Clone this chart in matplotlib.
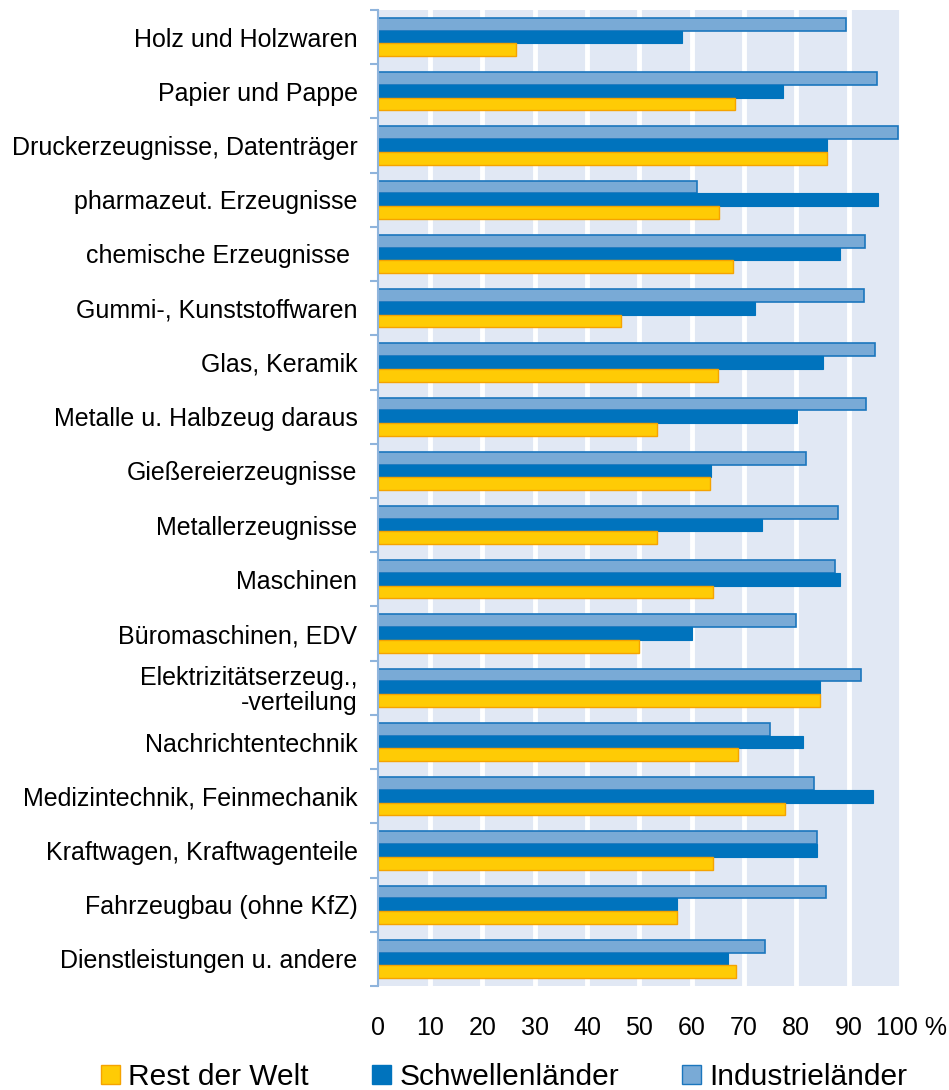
import numpy as np
import matplotlib
matplotlib.use("Agg")
import matplotlib.pyplot as plt
from matplotlib.patches import Patch
from matplotlib.transforms import ScaledTranslation

plt.rcParams["font.family"] = ["Liberation Sans", "DejaVu Sans"]

categories = [
    "Holz und Holzwaren",
    "Papier und Pappe",
    "Druckerzeugnisse, Datenträger",
    "pharmazeut. Erzeugnisse",
    "chemische Erzeugnisse ",
    "Gummi-, Kunststoffwaren",
    "Glas, Keramik",
    "Metalle u. Halbzeug daraus",
    "Gießereierzeugnisse",
    "Metallerzeugnisse",
    "Maschinen",
    "Büromaschinen, EDV",
    "Elektrizitätserzeug.,\n-verteilung",
    "Nachrichtentechnik",
    "Medizintechnik, Feinmechanik",
    "Kraftwagen, Kraftwagenteile",
    "Fahrzeugbau (ohne KfZ)",
    "Dienstleistungen u. andere",
]
industrie = [89.5, 95.5, 99.5, 61, 93.2, 93, 95, 93.4, 81.8, 88, 87.3, 80, 92.3, 75, 83.3, 84, 85.7, 74]
schwellen = [58.2, 77.4, 85.8, 95.7, 88.3, 72.2, 85.1, 80.1, 63.7, 73.4, 88.4, 60.1, 84.6, 81.3, 94.6, 84, 57.3, 67]
rest_welt = [26.4, 68.3, 85.8, 65.3, 67.9, 46.5, 65, 53.4, 63.6, 53.4, 64, 50, 84.6, 68.8, 77.8, 64, 57.3, 68.4]
xticks = [0, 10, 20, 30, 40, 50, 60, 70, 80, 90, 100]
xticklabels = ["0", "10", "20", "30", "40", "50", "60", "70", "80", "90", "100 %"]

C_IND, E_IND = "#79aad6", "#1b76bd"
C_SCH = "#0073bd"
C_ROW, E_ROW = "#ffcb05", "#f5a300"
BAND = "#e1e8f4"
AXC = "#8fb4dc"

W, H = 949, 1090
fig = plt.figure(figsize=(W / 100, H / 100), dpi=100)
ax = fig.add_axes([377.5 / W, 1 - 986 / H, (901 - 377.5) / W, (986 - 10) / H])
ax.set_facecolor(BAND)

y = np.arange(len(categories))
h = 0.235
ax.barh(y - h, industrie, h, color=C_IND, edgecolor=E_IND, linewidth=1.2, zorder=3)
ax.barh(y, schwellen, h, color=C_SCH, edgecolor=C_SCH, linewidth=0.8, zorder=3)
ax.barh(y + h, rest_welt, h, color=C_ROW, edgecolor=E_ROW, linewidth=1.0, zorder=3)

for xv in xticks[1:]:
    ax.axvline(xv, color="white", lw=3.5, zorder=1)

ax.set_xlim(0, 100)
ax.set_ylim(len(categories) - 0.5, -0.5)

for s in ("top", "right", "bottom"):
    ax.spines[s].set_visible(False)
ax.spines["left"].set_color(AXC)
ax.spines["left"].set_linewidth(1.5)
ax.spines["left"].set_zorder(4)

ax.set_yticks(y)
ax.set_yticklabels(categories, fontsize=18, linespacing=1.05)
ax.set_yticks(np.arange(-0.5, len(categories), 1), minor=True)
ax.tick_params(axis="y", which="major", length=0, pad=14.4)
ax.tick_params(axis="y", which="minor", length=5.5, width=1.5, color=AXC, direction="out")

ax.set_xticks(xticks)
ax.set_xticklabels(xticklabels, fontsize=18)
ax.tick_params(axis="x", length=0, pad=21.5)
lab = ax.get_xticklabels()[-1]
lab.set_transform(lab.get_transform() + ScaledTranslation(10 / 100, 0, fig.dpi_scale_trans))

handles = [
    Patch(facecolor=C_ROW, edgecolor=E_ROW, label="Rest der Welt"),
    Patch(facecolor=C_SCH, edgecolor=C_SCH, label="Schwellenländer"),
    Patch(facecolor=C_IND, edgecolor=E_IND, label="Industrieländer"),
]
fig.legend(handles=handles, loc="center", bbox_to_anchor=(504 / W, 1 - 1077 / H), ncol=3,
           frameon=False, fontsize=21.5, handlelength=0.65, handleheight=0.65,
           handletextpad=0.28, columnspacing=2.1, borderpad=0, borderaxespad=0)

fig.savefig("out.png", dpi=100)
